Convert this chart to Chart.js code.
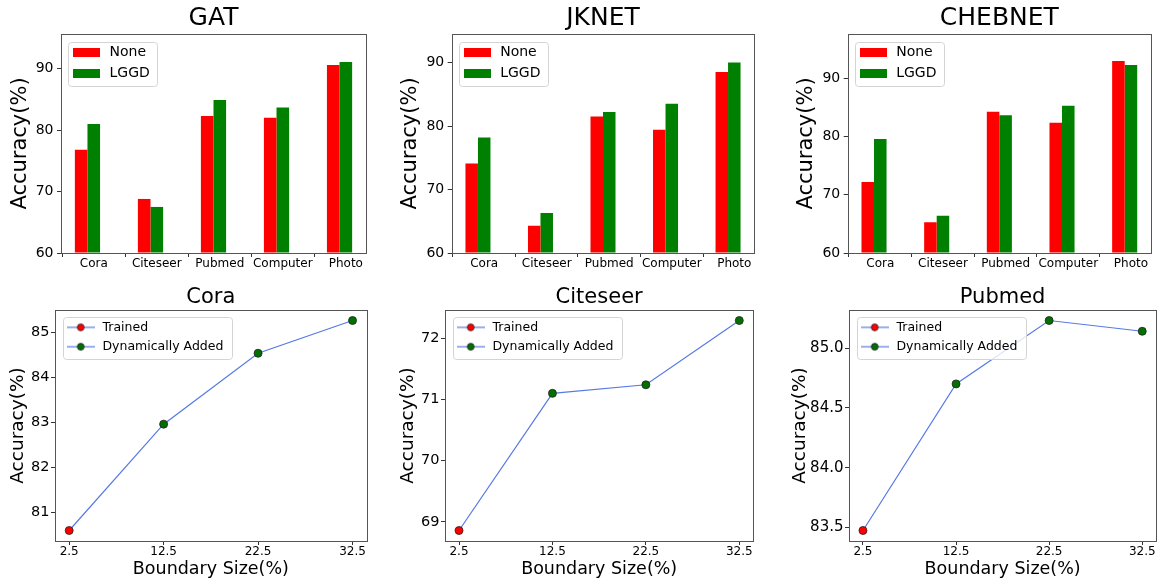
<!DOCTYPE html>
<html>
<head>
<meta charset="utf-8">
<script src="https://cdn.jsdelivr.net/npm/chart.js@4.4.1/dist/chart.umd.min.js"></script>
<style>
html, body { margin: 0; padding: 0; background: #fff; }
body { width: 1161px; height: 581px; position: relative; overflow: hidden; }
canvas { position: absolute; }
</style>
</head>
<body>
<canvas id="gat"></canvas>
<canvas id="jknet"></canvas>
<canvas id="cheb"></canvas>
<canvas id="cora"></canvas>
<canvas id="citeseer"></canvas>
<canvas id="pubmed"></canvas>
<script>
// --- data ---
const datasetNames = ['Cora', 'Citeseer', 'Pubmed', 'Computer', 'Photo'];
const barLegend = ['None', 'LGGD'];
const barColors = ['#ff0000', '#008000'];

const gatNone = [76.8, 68.8, 82.3, 82.0, 90.6];
const gatLggd = [81.0, 67.5, 84.9, 83.7, 91.1];
const jknetNone = [74.1, 64.3, 81.5, 79.4, 88.5];
const jknetLggd = [78.2, 66.3, 82.2, 83.5, 90.0];
const chebNone = [72.2, 65.3, 84.3, 82.4, 93.0];
const chebLggd = [79.6, 66.4, 83.7, 85.3, 92.3];
const accTicks = [60, 70, 80, 90];

const boundarySizes = [2.5, 12.5, 22.5, 32.5];
const pointStatus = ['Trained', 'Dynamically Added', 'Dynamically Added', 'Dynamically Added'];
const lineLegend = ['Trained', 'Dynamically Added'];
const statusColors = ['#ff0000', '#007000'];
const coraAcc = [80.59, 82.96, 84.54, 85.27];
const citeseerAcc = [68.86, 71.10, 71.24, 72.29];
const pubmedAcc = [83.475, 84.70, 85.23, 85.14];
const coraTicks = [81, 82, 83, 84, 85];
const citeseerTicks = [69, 70, 71, 72];
const pubmedTicks = [83.5, 84.0, 84.5, 85.0];

const LINE = '#5779e6';
const SPINE = '#555';

// where each panel sits on the page
const panels = {
  gat:      {x: 0,   y: 0,   w: 390, h: 282, yw: 61,   pr: 24,   xh: 29, yt: 7.9},
  jknet:    {x: 390, y: 0,   w: 385, h: 282, yw: 61.7, pr: 20.7, xh: 29, yt: 7.9},
  cheb:     {x: 775, y: 0,   w: 386, h: 282, yw: 72.7, pr: 10,   xh: 29, yt: 19.1},
  cora:     {x: 0,   y: 282, w: 390, h: 299, yw: 55,   pr: 23.3, xh: 40, yt: 7.2},
  citeseer: {x: 390, y: 282, w: 385, h: 299, yw: 55,   pr: 21.7, xh: 40, yt: 7.2},
  pubmed:   {x: 775, y: 282, w: 386, h: 299, yw: 74,   pr: 1.7,  xh: 40, yt: 13.9}
};

Chart.defaults.font.family = "'DejaVu Sans', sans-serif";
Chart.defaults.color = '#000';

// matplotlib-like box around the axes
const axesFrame = {
  id: 'axesFrame',
  afterDatasetsDraw(chart) {
    const {ctx, chartArea: a} = chart;
    ctx.save();
    ctx.strokeStyle = SPINE;
    ctx.lineWidth = 1;
    const l = Math.round(a.left) + 0.5, t = Math.round(a.top) + 0.5;
    ctx.strokeRect(l, t, Math.round(a.right) - Math.round(a.left), Math.round(a.bottom) - Math.round(a.top));
    ctx.restore();
  }
};

function drawLegendFrame(chart) {
  const lg = chart.legend, hb = lg.legendHitBoxes, p = chart.$lb.pad;
  if (!hb || !hb.length) return;
  let l = Infinity, t = Infinity, r = -Infinity, b = -Infinity;
  hb.forEach(h => {
    l = Math.min(l, h.left); t = Math.min(t, h.top);
    r = Math.max(r, h.left + h.width); b = Math.max(b, h.top + h.height);
  });
  const ctx = chart.ctx;
  ctx.save();
  ctx.beginPath();
  ctx.roundRect(Math.round(l - p[0]) + 0.5, Math.round(t - p[1]) + 0.5,
    Math.round(r - l + p[0] + p[2]), Math.round(b - t + p[1] + p[3]), 3);
  ctx.fillStyle = 'rgba(255,255,255,0.8)';
  ctx.fill();
  ctx.strokeStyle = '#d4d4d4';
  ctx.lineWidth = 1;
  ctx.stroke();
  ctx.restore();
}

// legend inside the axes, drawn above the data, with a frame
const legendBox = {
  id: 'legendBox',
  beforeLayout(chart) {
    const lg = chart.legend;
    if (!lg || lg.$raised) return;
    lg.$raised = true;
    lg._layers = () => [{z: 1, draw: (area) => { drawLegendFrame(chart); lg.draw(area); }}];
  },
  afterLayout(chart, args, opts) {
    const lg = chart.legend, a = chart.chartArea;
    chart.$lb = opts;
    lg.left = a.left + opts.dx;
    lg.top = a.top + opts.dy;
    lg.right = a.right;
    lg.bottom = a.bottom;
  }
};

function patchGlyph(color) {
  const c = document.createElement('canvas');
  c.width = 27; c.height = 9;
  const g = c.getContext('2d');
  g.fillStyle = color;
  g.fillRect(0, 0, 27, 9);
  return c;
}

function lineGlyph(color) {
  const c = document.createElement('canvas');
  c.width = 28; c.height = 10;
  const g = c.getContext('2d');
  g.strokeStyle = LINE; g.lineWidth = 1.2;
  g.beginPath(); g.moveTo(0, 5); g.lineTo(28, 5); g.stroke();
  g.beginPath(); g.arc(14, 5, 3.4, 0, Math.PI * 2);
  g.fillStyle = color; g.fill();
  g.strokeStyle = '#222'; g.lineWidth = 0.8; g.stroke();
  return c;
}

function place(cv, pos) {
  cv.width = pos.w; cv.height = pos.h;
  cv.style.left = pos.x + 'px'; cv.style.top = pos.y + 'px';
}

function barChart(id, title, none, lggd) {
  const pos = panels[id];
  const cv = document.getElementById(id);
  place(cv, pos);
  const yMin = accTicks[0];
  const yMax = Math.max(...none, ...lggd) * 1.05;
  const xPad = (datasetNames.length - 1 + 0.4) * 0.05;
  return new Chart(cv, {
    type: 'bar',
    data: {
      datasets: [
        {label: barLegend[0], data: none.map((v, i) => ({x: i, y: v})), backgroundColor: barColors[0]},
        {label: barLegend[1], data: lggd.map((v, i) => ({x: i, y: v})), backgroundColor: barColors[1]}
      ]
    },
    options: {
      responsive: false,
      animation: false,
      events: [],
      layout: {padding: {left: 0, top: 0, right: pos.pr, bottom: 0}},
      datasets: {bar: {categoryPercentage: 0.4, barPercentage: 1, borderWidth: 0, base: yMin}},
      scales: {
        x: {
          type: 'linear', offset: false,
          min: -0.2 - xPad, max: datasetNames.length - 1 + 0.2 + xPad,
          grid: {drawOnChartArea: false, drawTicks: true, tickLength: 4, color: '#333'},
          border: {display: false},
          ticks: {font: {size: 12}, padding: 0, maxRotation: 0, autoSkip: false,
                  callback: (v, i) => datasetNames[i]},
          afterBuildTicks: s => { s.ticks = datasetNames.map((_, i) => ({value: i + 0.1})); },
          afterFit: s => { s.height = pos.xh; }
        },
        y: {
          min: yMin, max: yMax,
          grid: {drawOnChartArea: false, drawTicks: true, tickLength: 4, color: '#333'},
          border: {display: false},
          ticks: {font: {size: 14}, padding: 3.5},
          afterBuildTicks: s => { s.ticks = accTicks.map(v => ({value: v})); },
          title: {display: true, text: 'Accuracy(%)', font: {size: 21}, padding: {top: pos.yt, bottom: 0}},
          afterFit: s => { s.width = pos.yw; }
        }
      },
      plugins: {
        title: {display: true, text: title, fullSize: false, color: '#000',
                font: {size: 25, weight: 'normal', lineHeight: '31px'}, padding: {top: 3, bottom: 0}},
        legend: {
          position: 'chartArea', align: 'start',
          labels: {
            usePointStyle: true, pointStyleWidth: 32, padding: 6.5, font: {size: 14}, color: '#000',
            generateLabels: () => barLegend.map((t, i) => ({
              text: t, pointStyle: patchGlyph(barColors[i]), fillStyle: barColors[i],
              strokeStyle: barColors[i], lineWidth: 0, hidden: false, datasetIndex: i
            }))
          }
        },
        legendBox: {dx: 3, dy: 5, pad: [2.5, 3.5, 7, 6]},
        tooltip: {enabled: false}
      }
    },
    plugins: [axesFrame, legendBox]
  });
}

function lineChart(id, title, acc, yTicks, decimals, yTickSize) {
  const pos = panels[id];
  const cv = document.getElementById(id);
  place(cv, pos);
  const lo = Math.min(...acc), hi = Math.max(...acc), ym = (hi - lo) * 0.05;
  const x0 = boundarySizes[0], x1 = boundarySizes[boundarySizes.length - 1], xm = (x1 - x0) * 0.05;
  return new Chart(cv, {
    type: 'line',
    data: {
      datasets: [{
        label: lineLegend[1],
        data: boundarySizes.map((b, i) => ({x: b, y: acc[i]})),
        borderColor: LINE, borderWidth: 1.2, tension: 0,
        pointRadius: 4, pointBorderWidth: 0.8, pointBorderColor: '#222',
        pointBackgroundColor: pointStatus.map(s => statusColors[lineLegend.indexOf(s)])
      }]
    },
    options: {
      responsive: false,
      animation: false,
      events: [],
      layout: {padding: {left: 0, top: 0, right: pos.pr, bottom: 0}},
      scales: {
        x: {
          type: 'linear', min: x0 - xm, max: x1 + xm,
          grid: {drawOnChartArea: false, drawTicks: true, tickLength: 4, color: '#333'},
          border: {display: false},
          ticks: {font: {size: 12}, padding: 0, maxRotation: 0, callback: v => v.toFixed(1)},
          afterBuildTicks: s => { s.ticks = boundarySizes.map(v => ({value: v})); },
          title: {display: true, text: 'Boundary Size(%)', font: {size: 17.5}, padding: {top: 0, bottom: 1}},
          afterFit: s => { s.height = pos.xh; }
        },
        y: {
          min: lo - ym, max: hi + ym,
          grid: {drawOnChartArea: false, drawTicks: true, tickLength: 4, color: '#333'},
          border: {display: false},
          ticks: {font: {size: yTickSize}, padding: 1.5, callback: v => v.toFixed(decimals)},
          afterBuildTicks: s => { s.ticks = yTicks.map(v => ({value: v})); },
          title: {display: true, text: 'Accuracy(%)', font: {size: 18.5}, padding: {top: pos.yt, bottom: 0}},
          afterFit: s => { s.width = pos.yw; }
        }
      },
      plugins: {
        title: {display: true, text: title, fullSize: false, color: '#000',
                font: {size: 21, weight: 'normal', lineHeight: '25px'}, padding: {top: 3, bottom: 0}},
        legend: {
          position: 'chartArea', align: 'start',
          labels: {
            usePointStyle: true, pointStyleWidth: 31, padding: 6.9, font: {size: 12.5}, color: '#000',
            generateLabels: () => lineLegend.map((t, i) => ({
              text: t, pointStyle: lineGlyph(statusColors[i]), fillStyle: statusColors[i],
              strokeStyle: LINE, lineWidth: 0, hidden: false, datasetIndex: 0
            }))
          }
        },
        legendBox: {dx: 3.3, dy: 4.2, pad: [2.5, 4.3, 8.5, 6]},
        tooltip: {enabled: false}
      }
    },
    plugins: [axesFrame, legendBox]
  });
}

barChart('gat', 'GAT', gatNone, gatLggd);
barChart('jknet', 'JKNET', jknetNone, jknetLggd);
barChart('cheb', 'CHEBNET', chebNone, chebLggd);
lineChart('cora', 'Cora', coraAcc, coraTicks, 0, 14.5);
lineChart('citeseer', 'Citeseer', citeseerAcc, citeseerTicks, 0, 14.5);
lineChart('pubmed', 'Pubmed', pubmedAcc, pubmedTicks, 1, 15);
</script>
</body>
</html>
